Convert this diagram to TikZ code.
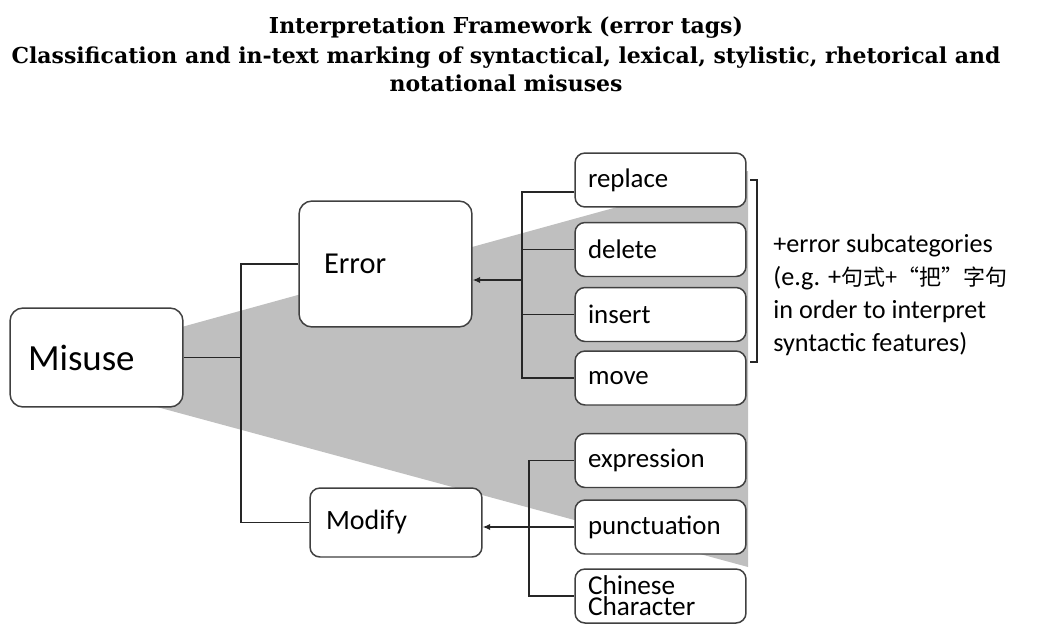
\documentclass[tikz,border=0pt]{standalone}
\usepackage{fontspec}
\setmainfont{Carlito}
\newfontfamily\titlefont{DejaVu Serif}
\newfontfamily\cjk[Scale=0.84]{Noto Sans CJK SC}
\usetikzlibrary{arrows.meta}
\definecolor{wedgegray}{RGB}{191,191,191}
\definecolor{boxline}{RGB}{64,64,64}

\begin{document}
\begin{tikzpicture}[x=0.02cm, y=-0.02cm,
  tagbox/.style={draw=boxline, line width=0.85pt, fill=white, rounded corners=0.2cm,
    align=left, inner ysep=0pt},
  smallbox/.style={tagbox, inner xsep=0.26cm, text width=2.9cm, minimum height=1.08cm,
    font=\fontsize{15.3}{18}\selectfont},
  link/.style={draw=black!85, line width=0.7pt},
  tip/.style={-{Latex[length=1.5mm, width=1.3mm]}}]

  \useasboundingbox (0,0) rectangle (1037,625);

  % Title
  \node[font=\titlefont\bfseries\fontsize{12.5}{15.9}\selectfont, align=center,
    anchor=north, inner sep=0pt] (title) at (506,16)
    {Interpretation Framework (error tags)\\[1.7pt]
    Classification and in-text marking of syntactical, lexical, stylistic, rhetorical and\\
    notational misuses};

  % Grey wedge behind the boxes
  \fill[wedgegray] (120,344) -- (748,171) -- (748,567) -- (120,397) -- cycle;

  % Main boxes
  \node[tagbox, rounded corners=0.26cm, inner xsep=0.36cm, text width=2.74cm,
    minimum height=1.98cm, font=\fontsize{21}{24}\selectfont] (misuse) at (96.5,357.5) {Misuse};
  \node[tagbox, rounded corners=0.26cm, inner xsep=0.5cm, text width=2.46cm,
    minimum height=2.52cm, font=\fontsize{17.3}{20}\selectfont] (error) at (385.5,264) {Error};
  \node[tagbox, inner xsep=0.32cm, text width=2.8cm, minimum height=1.38cm,
    font=\fontsize{15.9}{19}\selectfont] (modify) at (396,522.5) {Modify};

  % Error tags
  \foreach \name/\y in {replace/180, delete/249.5, insert/314.5, move/378}
    \node[smallbox] (\name) at (660.5,\y) {\name};

  % Modify tags
  \node[smallbox] (expression) at (660.5,460.5) {expression};
  \node[smallbox] (punctuation) at (660.5,527) {punctuation};
  \node[smallbox, font=\fontsize{15.5}{12}\selectfont] (chinese) at (660.5,596)
    {Chinese\\Character};

  % Connectors
  \coordinate (misusebus) at (241,357.5);
  \coordinate (errorbus) at (522,280);
  \coordinate (modifybus) at (529,526);

  \draw[link] (misuse.east) -- (misusebus);
  \draw[link] (error.west) -| (misusebus) |- (modify.west);

  \draw[link] ([yshift=-0.24cm]replace.west) -| (errorbus) |- (move.west);
  \foreach \name in {delete, insert}
    \draw[link] (\name.west) -- (\name.west -| errorbus);
  \draw[link, tip] (errorbus) -- (errorbus -| error.east);

  \draw[link] (expression.west) -| (modifybus) |- (chinese.west);
  \draw[link, tip] (punctuation.west) -- (punctuation.west -| modify.east);

  % Bracket and note
  \coordinate (brtop) at (750,180);
  \coordinate (brbot) at (750,362);
  \draw[link] (brtop) -- ++(7,0) |- (brbot);

  \node[anchor=west, align=left, inner sep=0pt, font=\fontsize{14.9}{18.9}\selectfont]
    (note) at (773,295) {+error subcategories\\
    (e.g. +\cjk{句式}+“\cjk{把}”\cjk{字句}\\
    in order to interpret\\
    syntactic features)};
\end{tikzpicture}
\end{document}
